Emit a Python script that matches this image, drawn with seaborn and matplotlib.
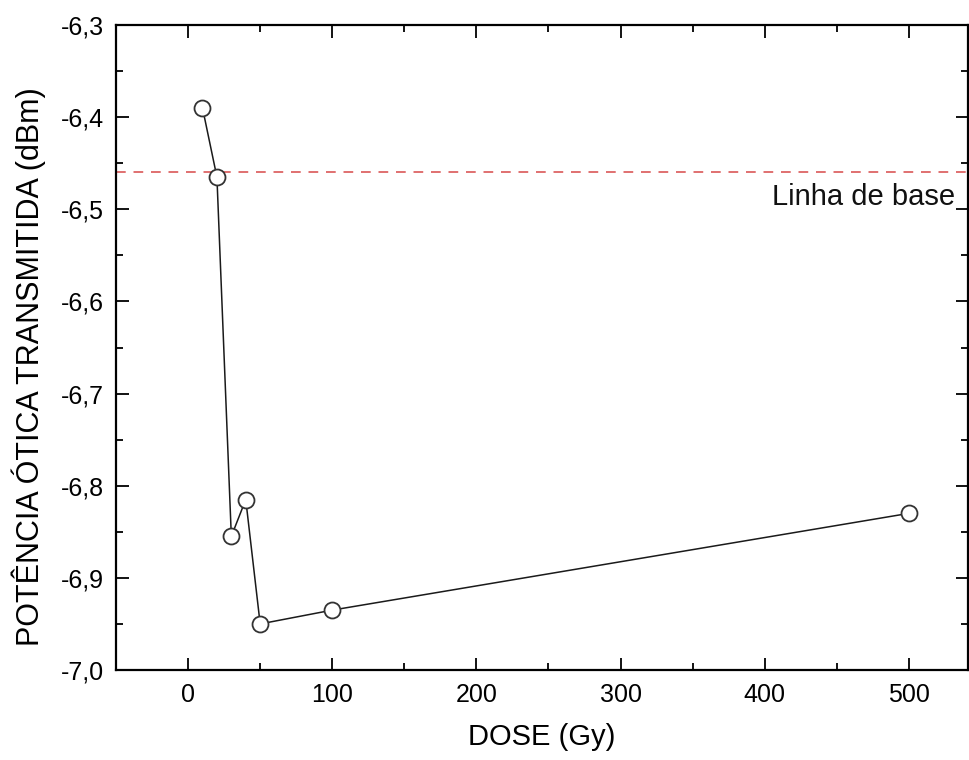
import matplotlib
matplotlib.use("Agg")
import matplotlib.pyplot as plt
import seaborn as sns
import pandas as pd
from matplotlib.ticker import MultipleLocator, FuncFormatter

dose = [10, 20, 30, 40, 50, 100, 500]
potencia = [-6.39, -6.465, -6.855, -6.815, -6.95, -6.935, -6.83]
linha_base = -6.46
xlabel = "DOSE (Gy)"
ylabel = "POTÊNCIA ÓTICA TRANSMITIDA (dBm)"
base_label = "Linha de base"

sns.set_theme(style="white")
plt.rcParams['font.family'] = ['Liberation Sans', 'DejaVu Sans']

df = pd.DataFrame({"dose": dose, "pot": potencia})

fig = plt.figure(figsize=(9.69, 7.6), dpi=100)
ax = fig.add_axes([116/969, 90/760, (968-116)/969, (670-25)/760])

ax.axhline(linha_base, color="#e07070", lw=1.4, ls=(0, (5, 4)), zorder=1)
sns.lineplot(data=df, x="dose", y="pot", ax=ax, color="#1a1a1a", lw=1.1,
             marker="o", markersize=11.5, markerfacecolor="white",
             markeredgecolor="#333333", markeredgewidth=1.3, zorder=3)

ax.set_xlim(-50, 541)
ax.set_ylim(-7.0, -6.3)
ax.xaxis.set_major_locator(MultipleLocator(100))
ax.xaxis.set_minor_locator(MultipleLocator(50))
ax.yaxis.set_major_locator(MultipleLocator(0.1))
ax.yaxis.set_minor_locator(MultipleLocator(0.05))
ax.yaxis.set_major_formatter(FuncFormatter(lambda v, p: f"{v:.1f}".replace(".", ",")))
ax.tick_params(which="both", direction="in", top=True, right=True, bottom=True, left=True,
               color="black", width=1.3, labelcolor="black")
ax.tick_params(which="major", length=9, labelsize=18, pad=9)
ax.tick_params(which="minor", length=5)
for s in ax.spines.values():
    s.set_color("black")
    s.set_linewidth(1.6)

ax.set_xlabel(xlabel, fontsize=21, labelpad=12, color="black")
ax.set_ylabel(ylabel, fontsize=22, color="black")
ax.yaxis.set_label_coords(-0.082, 0.471)

ax.text(532, -6.487, base_label, fontsize=21, ha="right", va="center", color="#111111")

fig.savefig("out.png", dpi=100)
